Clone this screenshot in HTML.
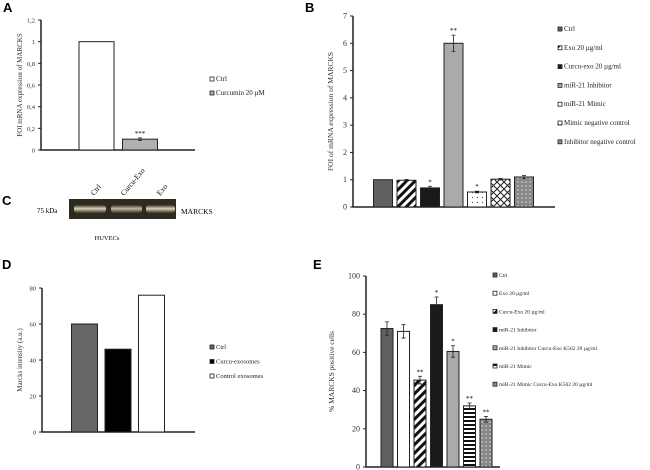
<!DOCTYPE html>
<html><head><meta charset="utf-8">
<style>
html,body{margin:0;padding:0;background:#fff;}
svg{display:block;font-family:"Liberation Serif",serif;}
.pl{font-family:"Liberation Sans",sans-serif;font-weight:bold;font-size:13px;}
</style></head>
<body>
<svg id="fig" width="650" height="470" viewBox="0 0 650 470" xmlns="http://www.w3.org/2000/svg">
<defs>
<pattern id="pDiag" width="6" height="6" patternUnits="userSpaceOnUse" patternTransform="rotate(45)"><rect width="6" height="6" fill="#fff"/><rect width="3" height="6" fill="#111"/></pattern>
<pattern id="pHoriz" width="4" height="4" patternUnits="userSpaceOnUse"><rect width="4" height="4" fill="#fff"/><rect width="4" height="2" fill="#111"/></pattern>
<pattern id="pDots" width="5" height="5" patternUnits="userSpaceOnUse"><rect width="5" height="5" fill="#fff"/><circle cx="2.5" cy="2.5" r="0.6" fill="#444"/></pattern>
<pattern id="pLattice" width="7" height="7" patternUnits="userSpaceOnUse"><rect width="7" height="7" fill="#fff"/><path d="M0 0L7 7M7 0L0 7" stroke="#222" stroke-width="1"/></pattern>
<pattern id="pGrayDots" width="4" height="4" patternUnits="userSpaceOnUse"><rect width="4" height="4" fill="#888"/><circle cx="2" cy="2" r="0.8" fill="#ddd"/></pattern>
<linearGradient id="band" x1="0" y1="0" x2="0" y2="1"><stop offset="0" stop-color="#3a3628"/><stop offset="0.45" stop-color="#d8d0b8"/><stop offset="1" stop-color="#3a3628"/></linearGradient>
</defs>

<text class="pl" x="3" y="12">A</text>
<text class="pl" x="305" y="12">B</text>
<text class="pl" x="2" y="205">C</text>
<text class="pl" x="2" y="269">D</text>
<text class="pl" x="313" y="269">E</text>

<!-- Panel C blot -->
<g>
<rect x="69" y="199" width="107" height="20" fill="#2d2a20"/>
<rect x="74" y="205" width="32" height="8" rx="3" fill="url(#band)"/>
<rect x="111" y="205" width="31" height="8" rx="3" fill="url(#band)" opacity="0.85"/>
<rect x="146" y="205" width="29" height="8" rx="3" fill="url(#band)"/>
<text x="37" y="213" font-size="7">75 kDa</text>
<text x="181" y="214" font-size="7.5">MARCKS</text>
<text transform="translate(94,196) rotate(-50)" font-size="7.5">Ctrl</text>
<text transform="translate(124,196) rotate(-50)" font-size="7.5">Curcu-Exo</text>
<text transform="translate(160,196) rotate(-50)" font-size="7.5">Exo</text>
<text x="107" y="240" font-size="6.5" text-anchor="middle">HUVECs</text>
</g>
<g id="charts"></g>
</svg>
<script>
// Panel A data
const aCats = ["Ctrl","Curcumin 20 µM"];
const aVals = [1, 0.1];
const aErr = [0, 0.012];
const aStars = ["","***"];
const aTicks = ["0","0,2","0,4","0,6","0,8","1","1,2"];
// Panel B data
const bCats = ["Ctrl","Exo 20 µg/ml","Curcu-exo 20 µg/ml","miR-21 Inhibitor","miR-21 Mimic"," Mimic negative control","Inhibitor negative control"];
const bVals = [1, 0.98, 0.7, 6.0, 0.55, 1.02, 1.1];
const bErr = [0, 0.03, 0.06, 0.3, 0.03, 0.03, 0.06];
const bStars = ["","","*","**","*","",""];
const bTicks = ["0","1","2","3","4","5","6","7"];
// Panel D data
const dCats = ["Ctrl","Curcu-exosomes","Control exosomes"];
const dVals = [60, 46, 76];
const dTicks = ["0","20","40","60","80"];
// Panel E data
const eCats = ["Ctrl","Exo 20 µg/ml","Curcu-Exo  20 µg/ml","miR-21 Inhibitor","miR-21 Inhibitor Curcu-Exo K562 20 µg/ml","miR-21 Mimic","miR-21 Mimic Curcu-Exo K562 20 µg/ml"];
const eVals = [72.5, 71, 45.5, 85, 60.5, 32, 25];
const eErr = [3.5, 3.5, 2, 4, 3, 1.5, 1.5];
const eStars = ["","","**","*","*","**","**"];
const eTicks = ["0","20","40","60","80","100"];

const NS="http://www.w3.org/2000/svg";
const root=document.getElementById('charts');
function mk(tag,at,parent){const e=document.createElementNS(NS,tag);for(const k in at)e.setAttribute(k,at[k]);(parent||root).appendChild(e);return e;}

function chart(o){
  const g=mk('g',{});
  
  
  const ymax=parseFloat(o.ticks[o.ticks.length-1].replace(',','.'));
  const y=v=>o.y0-(v/ymax)*(o.y0-o.yTop);
  const ax=mk('path',{d:`M${o.x0} ${o.yTop}V${o.y0}H${o.xEnd}`,stroke:'#222','stroke-width':1.5,fill:'none'},g);
  
  
  o.ticks.forEach((t,i)=>{
    const v=parseFloat(t.replace(',','.'));
    mk('line',{x1:o.x0-3,x2:o.x0,y1:y(v),y2:y(v),stroke:'#222'},g);
    const tx=mk('text',{x:o.x0-6,y:y(v)+2.5,'font-size':o.tickFs,'text-anchor':'end',fill:'#333'},g);
    tx.textContent=t;
    
    
  });
  const yl=mk('text',{transform:`translate(${o.ylx},${(o.y0+o.yTop)/2}) rotate(-90)`,'font-size':o.ylFs,'text-anchor':'middle',fill:'#333'},g);
  yl.textContent=o.ylabel;
  
  
  o.vals.forEach((v,i)=>{
    const cx=o.c0+i*o.step;
    const r=mk('rect',{x:cx-o.bw/2,y:y(v),width:o.bw,height:o.y0-y(v),fill:o.fills[i],stroke:'#222','stroke-width':1},g);
    
    
    const e=o.err?o.err[i]:0;
    if(e>0){
      mk('path',{d:`M${cx} ${y(v+e)}V${y(v-e)}M${cx-2} ${y(v+e)}H${cx+2}M${cx-2} ${y(v-e)}H${cx+2}`,stroke:'#222','stroke-width':0.8,fill:'none'},g);
    }
    if(o.stars&&o.stars[i]){
      const s=mk('text',{x:cx,y:y(v+e)-2,'font-size':7,'text-anchor':'middle'},g);
      s.textContent=o.stars[i];
      
      
    }
  });
  o.cats.forEach((c,i)=>{
    const ly=o.lg.y+i*o.lg.dy;
    const sw=mk('rect',{x:o.lg.x,y:ly-4,width:4,height:4,fill:o.fills[i],stroke:'#222','stroke-width':0.8},g);
    
    
    const t=mk('text',{x:o.lg.x+6,y:ly,'font-size':o.lg.fs,fill:'#222'},g);
    t.textContent=c;
    
    
  });
}

chart({name:'chart-a',cats:aCats,vals:aVals,err:aErr,stars:aStars,ticks:aTicks,x0:41,xEnd:195,y0:150,yTop:20,
  c0:96.5,step:43.5,bw:35,fills:['#fff','#b0b0b0'],ylabel:'FOI mRNA expression of MARCKS',ylx:22,ylFs:7,tickFs:6.5,
  lg:{x:210,y:81,dy:14,fs:7}});
chart({name:'chart-b',cats:bCats,vals:bVals,err:bErr,stars:bStars,ticks:bTicks,x0:353,xEnd:555,y0:207,yTop:16,
  c0:383,step:23.5,bw:19,fills:['#606060','url(#pDiag)','#1a1a1a','#aaa','url(#pDots)','url(#pLattice)','url(#pGrayDots)'],
  ylabel:'FOI of mRNA expression of MARCKS',ylx:333,ylFs:7.5,tickFs:8,lg:{x:558,y:31,dy:18.8,fs:7}});
chart({name:'chart-d',cats:dCats,vals:dVals,ticks:dTicks,x0:42,xEnd:195,y0:432,yTop:288,
  c0:84.5,step:33.5,bw:26,fills:['#666','#000','#fff'],ylabel:'Marcks intensity (a.u.)',ylx:22,ylFs:7,tickFs:6.5,
  lg:{x:210,y:349,dy:14.5,fs:6.5}});
chart({name:'chart-e',cats:eCats,vals:eVals,err:eErr,stars:eStars,ticks:eTicks,x0:366,xEnd:500,y0:467,yTop:276,
  c0:387,step:16.5,bw:12,fills:['#606060','#fff','url(#pDiag)','#1a1a1a','#aaa','url(#pHoriz)','url(#pGrayDots)'],
  ylabel:'% MARCKS positive cells',ylx:334,ylFs:7.5,tickFs:8,lg:{x:493,y:277,dy:18.2,fs:5.5}});
</script>
</body></html>
